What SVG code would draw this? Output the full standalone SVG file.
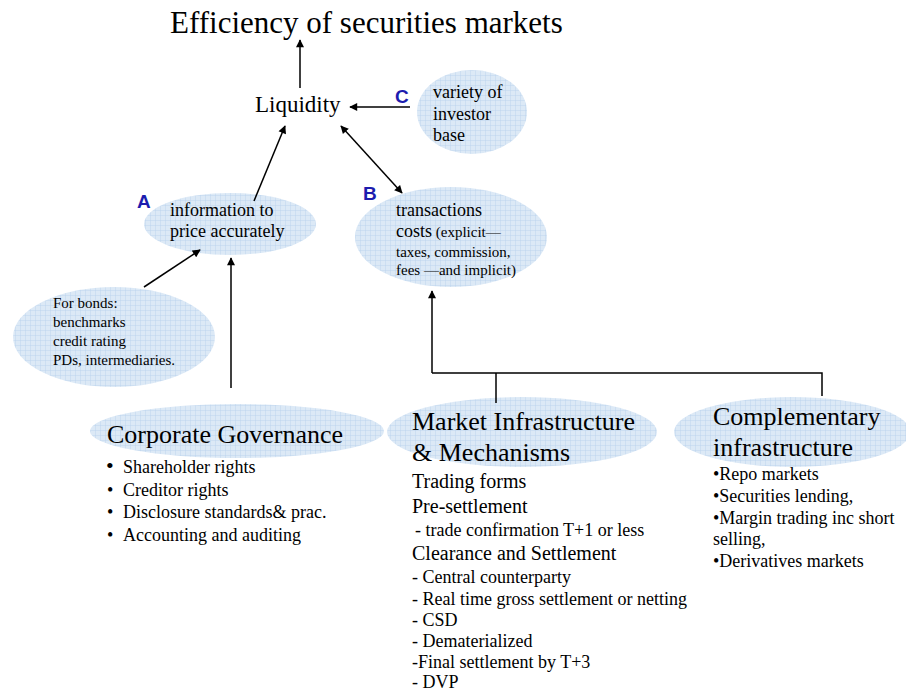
<svg xmlns="http://www.w3.org/2000/svg" width="906" height="693" viewBox="0 0 906 693">
<style>
.t{font-family:"Liberation Serif","Times New Roman",serif;fill:#000}
.lbl{font-family:"Liberation Sans",Arial,sans-serif;font-weight:bold;font-size:19px;fill:#1c1cae}
.blob{fill:url(#grid)}
.ln{stroke:#000;stroke-width:1.5;fill:none}
</style>
<defs>
<pattern id="grid" width="5" height="5" patternUnits="userSpaceOnUse">
<rect width="5" height="5" fill="#dce9f6"/>
<path d="M0 0.25H5M0.25 0V5" stroke="#b9d2ec" stroke-width="0.6"/>
</pattern>
<marker id="ah" viewBox="0 0 10 10" refX="9" refY="5" markerWidth="9" markerHeight="8" markerUnits="userSpaceOnUse" orient="auto-start-reverse">
<path d="M0 0L10 5L0 10z" fill="#000"/>
</marker>
</defs>
<rect width="906" height="693" fill="#fff"/>

<g id="title"><text class="t" x="170" y="33" font-size="31">Efficiency of securities markets</text></g>

<g id="liquidity"><text class="t" x="255" y="112" font-size="23">Liquidity</text></g>

<g id="nodeC">
<ellipse class="blob" cx="472" cy="112" rx="55" ry="42"/>
<text class="lbl" x="395" y="103">C</text>
<text class="t" font-size="18"><tspan x="433" y="98">variety of</tspan><tspan x="433" y="120">investor</tspan><tspan x="433" y="141">base</tspan></text>
</g>

<g id="nodeA">
<ellipse class="blob" cx="230" cy="224" rx="86" ry="31"/>
<text class="lbl" x="137" y="208">A</text>
<text class="t" font-size="18"><tspan x="170" y="216">information to</tspan><tspan x="170" y="237">price accurately</tspan></text>
</g>

<g id="nodeB">
<ellipse class="blob" cx="451" cy="237" rx="96" ry="50"/>
<text class="lbl" x="363" y="200">B</text>
<text class="t" font-size="18"><tspan x="396" y="216">transactions</tspan></text>
<text class="t" font-size="18"><tspan x="396" y="237">costs</tspan><tspan font-size="15"> (explicit—</tspan></text>
<text class="t" font-size="15"><tspan x="396" y="257">taxes, commission,</tspan><tspan x="396" y="275">fees —and implicit)</tspan></text>
</g>

<g id="bonds">
<ellipse class="blob" cx="114" cy="337" rx="101" ry="50"/>
<text class="t" font-size="15"><tspan x="53" y="308">For bonds:</tspan><tspan x="53" y="327">benchmarks</tspan><tspan x="53" y="346">credit rating</tspan><tspan x="53" y="365">PDs, intermediaries.</tspan></text>
</g>

<g id="corpgov">
<ellipse class="blob" cx="237" cy="431" rx="147" ry="27"/>
<text class="t" x="107" y="443" font-size="26">Corporate Governance</text>
<text class="t" font-size="18"><tspan x="106" y="473" font-size="22">•</tspan><tspan x="123" y="473">Shareholder rights</tspan><tspan x="107" y="496">•</tspan><tspan x="123" y="496">Creditor rights</tspan><tspan x="107" y="518">•</tspan><tspan x="123" y="518">Disclosure standards&amp; prac.</tspan><tspan x="107" y="541">•</tspan><tspan x="123" y="541">Accounting and auditing</tspan></text>
</g>

<g id="marketinfra">
<ellipse class="blob" cx="522" cy="432" rx="135" ry="35"/>
<text class="t" font-size="26"><tspan x="412" y="430">Market Infrastructure</tspan><tspan x="412" y="461">&amp; Mechanisms</tspan></text>
<text class="t" font-size="20"><tspan x="412" y="488">Trading forms</tspan><tspan x="412" y="513">Pre-settlement</tspan></text>
<text class="t" font-size="18"><tspan x="415" y="536">- trade confirmation T+1 or less</tspan></text>
<text class="t" font-size="20"><tspan x="412" y="560">Clearance and Settlement</tspan></text>
<text class="t" font-size="18"><tspan x="412" y="583">- Central counterparty</tspan><tspan x="412" y="605">- Real time gross settlement or netting</tspan><tspan x="412" y="626">- CSD</tspan><tspan x="412" y="647">- Dematerialized</tspan><tspan x="412" y="668">-Final settlement by T+3</tspan><tspan x="412" y="688">- DVP</tspan></text>
</g>

<g id="complementary">
<ellipse class="blob" cx="792" cy="432" rx="118" ry="35"/>
<text class="t" font-size="26"><tspan x="713" y="425">Complementary</tspan><tspan x="713" y="456">infrastructure</tspan></text>
<text class="t" font-size="18"><tspan x="713" y="480">•Repo markets</tspan><tspan x="713" y="502">•Securities lending,</tspan><tspan x="713" y="524">•Margin trading inc short</tspan><tspan x="713" y="545">selling,</tspan><tspan x="713" y="567">•Derivatives markets</tspan></text>
</g>

<g id="connectors" class="ln">
<line x1="300" y1="88" x2="300" y2="40" marker-end="url(#ah)"/>
<line x1="410" y1="107" x2="350" y2="107" marker-end="url(#ah)"/>
<line x1="341" y1="126" x2="402" y2="193" marker-start="url(#ah)" marker-end="url(#ah)"/>
<line x1="254" y1="201" x2="285" y2="126" marker-end="url(#ah)"/>
<line x1="144" y1="287" x2="200" y2="250" marker-end="url(#ah)"/>
<line x1="231" y1="388" x2="231" y2="258" marker-end="url(#ah)"/>
<line x1="432" y1="373" x2="432" y2="291" marker-end="url(#ah)"/>
<polyline points="432,373 822,373 822,396"/>
<line x1="496" y1="373" x2="496" y2="403"/>
</g>
</svg>
